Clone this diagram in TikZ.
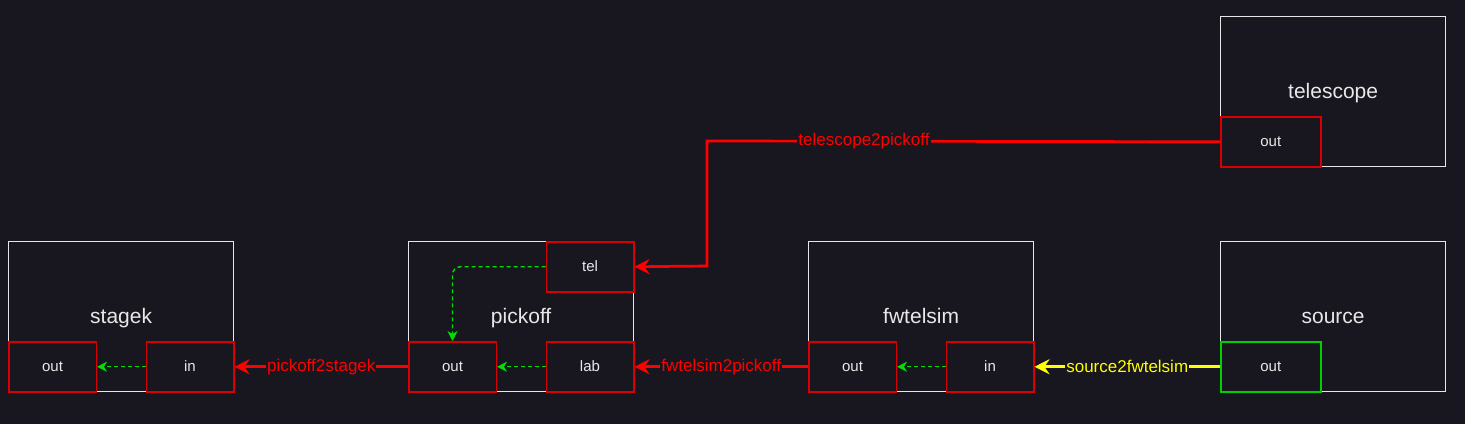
\documentclass[tikz,border=0pt]{standalone}
\usepackage{fontspec}
\setmainfont{Liberation Sans}
\usetikzlibrary{arrows.meta}
\definecolor{bgc}{HTML}{18161F}
\definecolor{boxline}{HTML}{E6E6E6}
\definecolor{txt}{HTML}{E8E8E8}
\definecolor{portred}{HTML}{D80000}
\definecolor{portgreen}{HTML}{00D000}
\definecolor{edgered}{HTML}{FF0000}
\definecolor{edgeyellow}{HTML}{FFFF00}
\definecolor{dashgreen}{HTML}{00E000}
\tikzset{
  block/.style={draw=boxline, line width=1.3pt, fill=bgc, anchor=north west, inner sep=0pt,
    minimum width=225pt, minimum height=150pt, text=txt, text height=17pt, text depth=4pt,
    font=\fontsize{21}{25}\selectfont},
  port/.style={draw=portred, line width=1.5pt, fill=bgc, anchor=north west, inner sep=0pt,
    minimum height=50pt, text=txt, text height=11.5pt, text depth=3pt, font=\fontsize{15}{18}\selectfont},
  pw/.style={minimum width=87.5pt},
  pwide/.style={minimum width=100pt},
  conn/.style={line width=2.7pt, draw=edgered, -{Stealth[length=15pt,width=15pt,inset=5pt]}},
  yconn/.style={line width=2.7pt, draw=edgeyellow, -{Stealth[length=15pt,width=15pt,inset=5pt]}},
  elabel/.style={fill=bgc, inner sep=1pt, font=\fontsize{17}{20}\selectfont},
  inner/.style={dashed, dash pattern=on 4pt off 3pt, line width=1.4pt, draw=dashgreen,
    -{Stealth[length=10pt,width=10pt,inset=3pt]}},
}
\begin{document}
\begin{tikzpicture}[x=1pt,y=-1pt]
\fill[bgc] (0,0) rectangle (1465,424);
\useasboundingbox (0,0) rectangle (1465,424);

% blocks
\node[block] (telescope) at (1220,16) {telescope};
\node[block] (stagek) at (8,241) {stagek};
\node[block] (pickoff) at (408,241) {pickoff};
\node[block] (fwtelsim) at (808,241) {fwtelsim};
\node[block] (source) at (1220,241) {source};

% ports
\node[port,pwide] (telout) at (1220,116) {out};
\node[port,pw] (stout) at (8,341) {out};
\node[port,pw] (stin) at (145.5,341) {in};
\node[port,pw] (ptel) at (545.5,241) {tel};
\node[port,pw] (pout) at (408,341) {out};
\node[port,pw] (plab) at (545.5,341) {lab};
\node[port,pw] (fout) at (808,341) {out};
\node[port,pw] (fin) at (945.5,341) {in};
\node[port,pwide,draw=portgreen] (srcout) at (1220,341) {out};

% internal connections
\draw[inner] (stin.west) -- (stout.east);
\draw[inner] (plab.west) -- (pout.east);
\draw[inner] (fin.west) -- (fout.east);
\draw[inner, rounded corners=8pt] (ptel.west) -| (pout.north);

% edges
\coordinate (elbowA) at (707,141);
\coordinate (elbowB) at (707,266);
\draw[conn] (telout.west) -- node[pos=0.694, elabel, text=edgered] {telescope2pickoff} (elbowA) -- (elbowB) -- (ptel.east);
\draw[conn] (pout.west) -- node[elabel, text=edgered] {pickoff2stagek} (stin.east);
\draw[conn] (fout.west) -- node[elabel, text=edgered] {fwtelsim2pickoff} (plab.east);
\draw[yconn] (srcout.west) -- node[elabel, text=edgeyellow] {source2fwtelsim} (fin.east);
\end{tikzpicture}
\end{document}
